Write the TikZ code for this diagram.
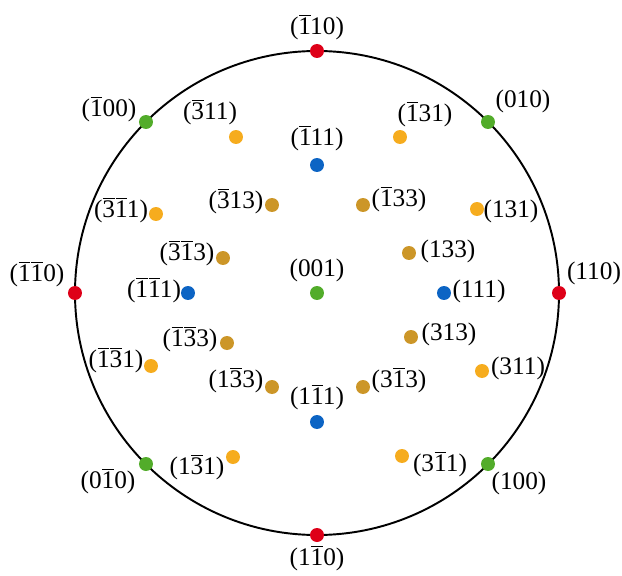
\documentclass[tikz,border=0pt]{standalone}
\usepackage{fontspec}
\setmainfont{Liberation Serif}
\usepackage{xcolor}
\usepackage{tikz}

\definecolor{cred}{RGB}{222,0,24}
\definecolor{cgreen}{RGB}{82,172,42}
\definecolor{cblue}{RGB}{12,100,196}
\definecolor{cyel}{RGB}{246,172,30}
\definecolor{cgold}{RGB}{204,150,40}

% digit with a bar over it
\newcommand\ob[1]{\makebox[0pt][l]{\hspace{0.02em}\rule[0.73em]{0.46em}{0.07em}}#1}

\begin{document}
\begin{tikzpicture}[x=0.02cm,y=0.02cm,
  pole/.style={circle,inner sep=0pt,minimum size=0.28cm,fill=#1},
  lbl/.style={inner sep=0pt,text height=0.75em,text depth=0.2em,
    font=\fontsize{14.4}{17}\selectfont}]
\def\R{242}
\useasboundingbox (-317,-282) rectangle (305,293);
% Primitive circle
\draw[line width=1.1pt] (0,0) circle (\R);
% Poles: name/x/y/colour/label shift/label
\foreach \nm/\px/\py/\col/\dx/\dy/\txt in {
  p-m110/0/242/cred/0/21/{(\ob{1}10)},
  p-110/242/0/cred/35/18/{(110)},
  p-1m10/0/-242/cred/0/-26/{(1\ob{1}0)},
  p-m1m10/-242/0/cred/-38/16/{(\ob{1}\ob{1}0)},
  p-m100/-171/171/cgreen/-37/10/{(\ob{1}00)},
  p-010/171/171/cgreen/35/19/{(010)},
  p-0m10/-171/-171/cgreen/-38/-20/{(0\ob{1}0)},
  p-100/171/-171/cgreen/31/-21/{(100)},
  p-001/0/0/cgreen/0/21/{(001)},
  p-m111/0/128/cblue/0/24/{(\ob{1}11)},
  p-1m11/0/-129/cblue/0/22/{(1\ob{1}1)},
  p-m1m11/-129/0/cblue/-34/0/{(\ob{1}\ob{1}1)},
  p-111/127/0/cblue/35/0/{(111)},
  p-m311/-81/156/cyel/-26/22/{(\ob{3}11)},
  p-m131/83/156/cyel/25/20/{(\ob{1}31)},
  p-m3m11/-161/79/cyel/-35/1/{(\ob{3}\ob{1}1)},
  p-131/160/84/cyel/34/-4/{(131)},
  p-m1m31/-166/-73/cyel/-35/3/{(\ob{1}\ob{3}1)},
  p-311/165/-78/cyel/36/1/{(311)},
  p-1m31/-84/-164/cyel/-36/-13/{(1\ob{3}1)},
  p-3m11/85/-163/cyel/38/-11/{(3\ob{1}1)},
  p-m313/-45/88/cgold/-36/1/{(\ob{3}13)},
  p-m133/46/88/cgold/36/3/{(\ob{1}33)},
  p-m3m13/-94/35/cgold/-36/2/{(\ob{3}\ob{1}3)},
  p-133/92/40/cgold/39/0/{(133)},
  p-m1m33/-90/-50/cgold/-37/1/{(\ob{1}\ob{3}3)},
  p-313/94/-44/cgold/38/1/{(313)},
  p-1m33/-45/-94/cgold/-36/4/{(1\ob{3}3)},
  p-3m13/46/-94/cgold/36/4/{(3\ob{1}3)}%
}{
  \node[pole=\col] (\nm) at (\px,\py) {};
  \node[lbl] (lab\nm) at ([shift={(\dx,\dy)}]\nm) {\txt};
}
\end{tikzpicture}
\end{document}
